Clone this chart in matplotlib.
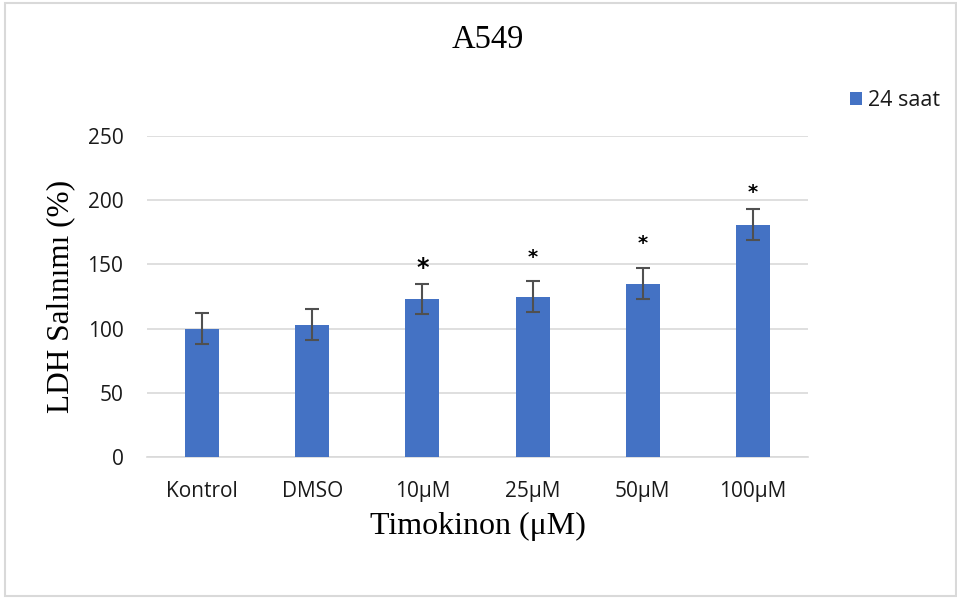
import matplotlib
matplotlib.use("Agg")
import matplotlib.pyplot as plt
from matplotlib.patches import Rectangle

categories = ["Kontrol", "DMSO", "10μM", "25μM", "50μM", "100μM"]
values = [100, 103, 123, 125, 135, 181]
errors = [12, 12, 12, 12, 12, 12]
star_y = [None, None, 147, 155, 166, 206]
star_size = [0, 0, 17, 14, 14, 14]
yticks = [0, 50, 100, 150, 200, 250]

fig = plt.figure(figsize=(9.57, 5.99), dpi=100)
ax = fig.add_axes([147/957, 1-457/599, (808-147)/957, (457-136)/599])

x = list(range(len(categories)))
bars = ax.bar(x, values, width=0.31, color="#4472C4", label="24 saat", zorder=3)
ax.errorbar(x, values, yerr=errors, fmt="none", ecolor="#505050", elinewidth=1.5,
            capsize=5, capthick=1.5, zorder=4)
for xi, sy, ss in zip(x, star_y, star_size):
    if sy is not None:
        ax.text(xi, sy, "*", ha="center", va="center", fontsize=ss, color="black",
                family="DejaVu Sans", fontweight="bold", zorder=5)

ax.set_xlim(-0.5, len(categories) - 0.5)
ax.set_ylim(0, 250)
ax.set_yticks(yticks)
ax.set_xticks(x)
ax.set_xticklabels(categories, family="Open Sans", fontsize=15, color="#1a1a1a")
for lbl in ax.get_yticklabels():
    lbl.set_family("Open Sans")
    lbl.set_fontsize(15)
    lbl.set_color("#1a1a1a")
ax.tick_params(axis="both", length=0)
ax.tick_params(axis="y", pad=17)
ax.tick_params(axis="x", pad=17)
ax.grid(axis="y", color="#d9d9d9", linewidth=1.2, zorder=0)
for s in ["top", "right", "left"]:
    ax.spines[s].set_visible(False)
ax.spines["bottom"].set_color("#d9d9d9")
ax.spines["bottom"].set_linewidth(1.2)

ax.set_ylabel("LDH Salınımı (%)", family="Liberation Serif", fontsize=22.5)
ax.yaxis.set_label_coords((75 - 147) / 661, 0.5)
ax.set_xlabel("Timokinon (μM)", family="Liberation Serif", fontsize=23)
ax.xaxis.set_label_coords((478 - 147) / 661, (457 - 526) / 321)
ax.xaxis.label.set_va("center")

fig.text(487.5 / 957, 1 - 40/599, "A549", family="Liberation Serif",
         fontsize=23.5, ha="center", va="center")

leg = fig.legend(handles=[bars], labels=["24 saat"], loc="center left",
                 bbox_to_anchor=(850/957, 1 - 101/599), frameon=False,
                 prop={"family": "Open Sans", "size": 15.5},
                 borderpad=0, borderaxespad=0,
                 handlelength=0.55, handleheight=0.55, handletextpad=0.3)
for t in leg.get_texts():
    t.set_color("#1a1a1a")

fig.patches.append(Rectangle((5/957, 3/599), 1 - 6/957, 1 - 6/599, transform=fig.transFigure,
                             fill=False, edgecolor="#d9d9d9", linewidth=1.5))

fig.savefig("out.png", dpi=100)
